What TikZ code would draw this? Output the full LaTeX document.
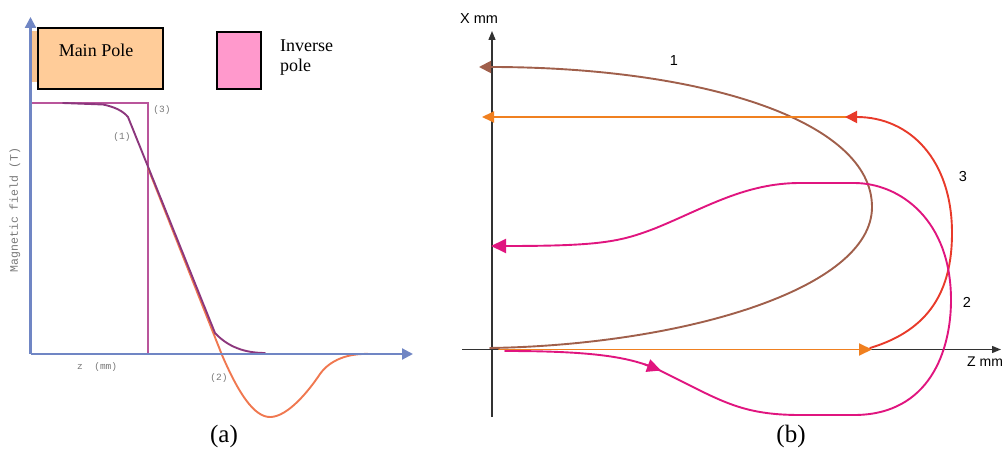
\documentclass[tikz,border=0pt]{standalone}
\usepackage{fontspec}
\setmainfont{Liberation Serif}
\newfontfamily\sansf{Liberation Sans}
\newfontfamily\monof{Liberation Mono}
\usetikzlibrary{arrows.meta}
\definecolor{axblue}{RGB}{112,134,196}
\definecolor{mainfill}{RGB}{255,204,153}
\definecolor{mainside}{RGB}{247,195,145}
\definecolor{invfill}{RGB}{255,153,204}
\definecolor{rectpurple}{RGB}{185,85,155}
\definecolor{curvepurple}{RGB}{140,55,125}
\definecolor{curveorange}{RGB}{240,120,80}
\definecolor{monogray}{RGB}{120,120,120}
\definecolor{cbrown}{RGB}{160,95,75}
\definecolor{corange}{RGB}{240,128,32}
\definecolor{cred}{RGB}{232,58,42}
\definecolor{cmagenta}{RGB}{224,21,127}
\definecolor{axdark}{RGB}{50,50,50}
\tikzset{
  axisa/.style={draw=axblue,line width=2.2pt,-{Triangle[length=11pt,width=11pt]}},
  axisb/.style={draw=axdark,line width=1.3pt,-{Triangle[length=9pt,width=7pt]}},
  pole/.style={draw=black,line width=2pt},
  monolbl/.style={font=\monof\fontsize{9.5}{11}\selectfont,text=monogray,inner sep=0pt},
  sanslbl/.style={font=\sansf\fontsize{14.5}{17}\selectfont,inner sep=0pt},
  serlbl/.style={font=\fontsize{18}{21}\selectfont,inner sep=0pt},
  caplbl/.style={font=\fontsize{25}{28}\selectfont,inner sep=0pt},
  curve/.style={line width=1.9pt,line join=round,line cap=round},
  tipb/.style={-{Triangle[length=12pt,width=12pt]}}
}
\begin{document}
\begin{tikzpicture}[x=1pt,y=-1pt]
\useasboundingbox (0,0) rectangle (1005,449);
% ---------- panel (a) ----------
\fill[mainside] (31,31) rectangle (45,82);
\filldraw[fill=mainfill,pole] (37.7,28) rectangle (163,89);
\filldraw[fill=invfill,pole] (217,32) rectangle (261,89);
\node[serlbl,anchor=base] (mp) at (96,57) {Main Pole};
\node[serlbl,anchor=base west] (ip1) at (280,52) {Inverse};
\node[serlbl,anchor=base west] (ip2) at (280,72) {pole};
% rectangle profile (3)
\draw[rectpurple,line width=2pt] (31,103) -- (148,103) -- (148,354);
% curve (2) orange
\draw[curveorange,curve] (148,168) -- (222,355) .. controls (238,392) and (254,418) .. (271,417)
  .. controls (288,416) and (308,392) .. (320,374) .. controls (330,360) and (348,353) .. (370,354);
% curve (1) purple
\draw[curvepurple,curve] (63,103) -- (103,104.5) .. controls (115,107) and (123,111) .. (128,117)
  -- (215,333) .. controls (228,347) and (245,353) .. (265,353);
% axes
\coordinate (ao) at (30.5,354);
\coordinate (ay) at (30.5,17);
\coordinate (ax) at (413,354);
\draw[axisa] (ao) -- (ay);
\draw[axisa] (ao) -- (ax);
\node[monolbl] (l3) at (162,110) {(3)};
\node[monolbl] (l1) at (122,137) {(1)};
\node[monolbl] (l2) at (219,378) {(2)};
\node[monolbl,anchor=west] (zl) at (77,367) {z\ \ (mm)};
\node[monolbl,font=\monof\fontsize{11.5}{13}\selectfont,rotate=90] (mf) at (15,210) {Magnetic field (T)};
\node[caplbl] (ca) at (224,436) {(a)};
% ---------- panel (b) ----------
\coordinate (bo1) at (492,417);
\coordinate (by) at (492,31);
\coordinate (bo2) at (462,349.5);
\coordinate (bx) at (1001,349.5);
\draw[axisb] (bo1) -- (by);
\draw[axisb] (bo2) -- (bx);
\node[sanslbl] (xm) at (479,19) {X mm};
\node[sanslbl,anchor=west,font=\sansf\fontsize{14}{17}\selectfont] (zm) at (967,362) {Z mm};
% brown curve 1
\draw[cbrown,curve,tipb] (490,348) .. controls (680,345) and (872,290) .. (872,207)
  .. controls (872,120) and (700,67) .. (479,67);
% orange lines
\draw[corange,curve,-{Triangle[length=12pt,width=11pt]}] (847,117) -- (482,117);
\draw[corange,curve,-{Triangle[length=13pt,width=12pt]}] (499,349.5) -- (872,349.5);
% red curve 3
\draw[cred,curve,-{Triangle[length=12pt,width=12pt]}] (870,348) .. controls (930,330) and (952,290) .. (952,233)
  .. controls (952,160) and (910,117) .. (845,117);
% magenta curve 2
\draw[cmagenta,curve,-{Triangle[length=15pt,width=14pt]}] (505,351) .. controls (600,351) and (635,358) .. (663,372)
  .. controls (720,400) and (740,415) .. (800,415) -- (854,415)
  .. controls (930,415) and (951,350) .. (951,300)
  .. controls (951,220) and (900,183) .. (854,183) -- (800,183)
  .. controls (745,183) and (705,208) .. (656,228)
  .. controls (620,242) and (600,246) .. (491,246);
\draw[cmagenta,curve,-{Triangle[length=14pt,width=13pt]}] (645,364.5) -- (661,370.5);
\node[sanslbl] (n1) at (674,61) {1};
\node[sanslbl] (n3) at (963,177) {3};
\node[sanslbl] (n2) at (967,302) {2};
\node[caplbl] (cb) at (791,436) {(b)};
\end{tikzpicture}
\end{document}
